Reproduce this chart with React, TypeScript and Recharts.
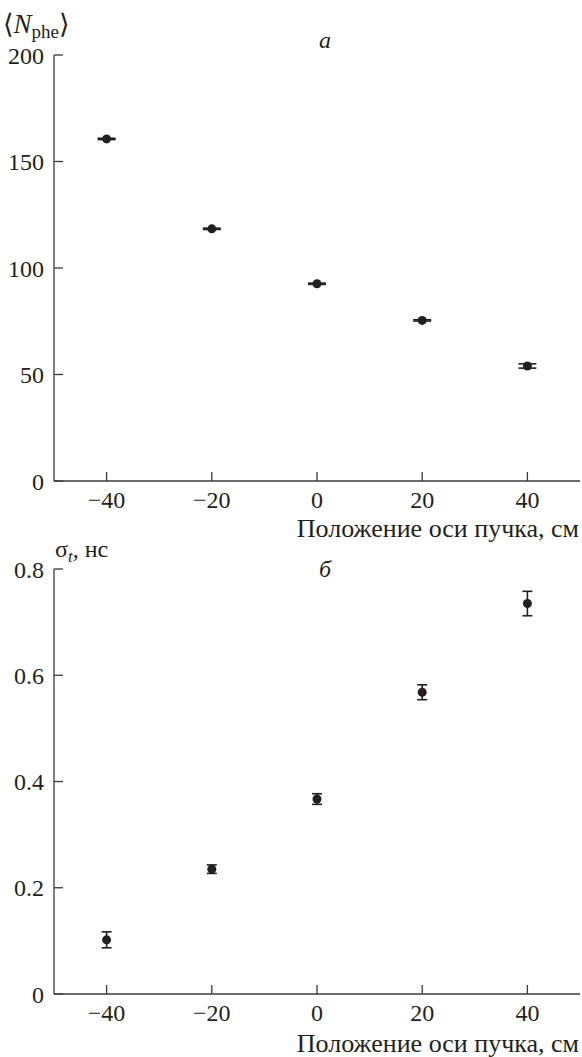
import { ErrorBar, Label, Scatter, ScatterChart, XAxis, YAxis } from 'recharts'

// положение оси пучка, см
const POSITIONS = [-40, -20, 0, 20, 40]
const X_TICKS = [-40, -20, 0, 20, 40]

// панель а: среднее число фотоэлектронов
const NPHE = [160.6, 118.4, 92.6, 75.4, 54.0]
const NPHE_ERR = [0.3, 0.3, 0.3, 0.3, 1.0]
const NPHE_TICKS = [0, 50, 100, 150, 200]

// панель б: временное разрешение, нс
const SIGMA = [0.102, 0.235, 0.367, 0.568, 0.735]
const SIGMA_ERR = [0.015, 0.008, 0.01, 0.014, 0.023]
const SIGMA_TICKS = [0, 0.2, 0.4, 0.6, 0.8]

const INK = '#231f20'
const AXIS = '#3a3a3a'
const FONT = '"Liberation Serif", "DejaVu Serif", serif'
const X_TITLE = 'Положение оси пучка, см'

const dataA = POSITIONS.map((x, i) => ({ x, y: NPHE[i], err: NPHE_ERR[i] }))
const dataB = POSITIONS.map((x, i) => ({ x, y: SIGMA[i], err: SIGMA_ERR[i] }))

const fmtX = (v: number) => (v < 0 ? `\u2212${Math.abs(v)}` : `${v}`)
const fmtSigma = (v: number) => (v === 0 ? '0' : v.toFixed(1))

const Dot = (p: any) => <circle cx={p.cx} cy={p.cy} r={4.5} fill={INK} />

// серифные подписи делений (Text из recharts теряет шрифт)
const XTick = ({ x, y, payload }: any) => (
  <text x={x} y={y} dy="0.71em" textAnchor="middle" fontSize={24} fill={INK} fontFamily={FONT}>
    {fmtX(payload.value)}
  </text>
)
const makeYTick = (fmt: (v: number) => string) => ({ x, y, payload }: any) => (
  <text x={x} y={y} dy="0.355em" textAnchor="end" fontSize={24} fill={INK} fontFamily={FONT}>
    {fmt(payload.value)}
  </text>
)
const YTickA = makeYTick((v) => `${v}`)
const YTickB = makeYTick(fmtSigma)

function XTitle({ viewBox, dy }: any) {
  const { x, y, width } = viewBox
  return (
    <text x={x + width - 1} y={y + dy} textAnchor="end" fontSize={26} fill={INK} fontFamily={FONT}>
      {X_TITLE}
    </text>
  )
}

export default function App() {
  return (
    <div style={{ position: 'absolute', left: 0, top: 0, width: 582, height: 1057, background: '#fff', fontFamily: FONT }}>
      {/* а */}
      <div style={{ position: 'absolute', left: 0, top: 0 }}>
        <ScatterChart width={582} height={545} margin={{ top: 55, right: 2, left: 0, bottom: 0 }}>
          <XAxis
            type="number"
            dataKey="x"
            domain={[-50, 50]}
            ticks={X_TICKS}
            height={64}
            tickSize={-9}
            tickMargin={19}
            stroke={AXIS}
            strokeWidth={1.3}
            tick={<XTick />}
          >
            <Label content={(props: any) => <XTitle {...props} dy={56} />} />
          </XAxis>
          <YAxis
            type="number"
            dataKey="y"
            domain={[0, 200]}
            ticks={NPHE_TICKS}
            width={54}
            tickSize={-9}
            tickMargin={19}
            stroke={AXIS}
            strokeWidth={1.3}
            tick={<YTickA />}
          >
            <Label
              content={() => (
                <g fontFamily={FONT} fill={INK}>
                  <text x={3} y={33} fontSize={27}>
                    {'\u27e8'}
                    <tspan fontStyle="italic">N</tspan>
                    <tspan fontSize={19} dy={5}>phe</tspan>
                    <tspan dy={-5}>{'\u27e9'}</tspan>
                  </text>
                  <text x={325} y={48} fontSize={24} fontStyle="italic" textAnchor="middle">
                    а
                  </text>
                </g>
              )}
            />
          </YAxis>
          <Scatter data={dataA} shape={Dot} isAnimationActive={false}>
            <ErrorBar dataKey="err" direction="y" width={9} stroke={INK} strokeWidth={1.6} />
          </Scatter>
        </ScatterChart>
      </div>
      {/* б */}
      <div style={{ position: 'absolute', left: 0, top: 530 }}>
        <ScatterChart width={582} height={527} margin={{ top: 39, right: 2, left: 0, bottom: 0 }}>
          <XAxis
            type="number"
            dataKey="x"
            domain={[-50, 50]}
            ticks={X_TICKS}
            height={63}
            tickSize={-9}
            tickMargin={19}
            stroke={AXIS}
            strokeWidth={1.3}
            tick={<XTick />}
          >
            <Label content={(props: any) => <XTitle {...props} dy={58} />} />
          </XAxis>
          <YAxis
            type="number"
            dataKey="y"
            domain={[0, 0.8]}
            ticks={SIGMA_TICKS}
            width={54}
            tickSize={-9}
            tickMargin={19}
            stroke={AXIS}
            strokeWidth={1.3}
            tick={<YTickB />}
          >
            <Label
              content={() => (
                <g fontFamily={FONT} fill={INK}>
                  <text x={55} y={27} fontSize={24}>
                    σ
                    <tspan fontSize={17} dy={5} fontStyle="italic">t</tspan>
                    <tspan dy={-5}>, нс</tspan>
                  </text>
                  <text x={325} y={47} fontSize={24} fontStyle="italic" textAnchor="middle">
                    б
                  </text>
                </g>
              )}
            />
          </YAxis>
          <Scatter data={dataB} shape={Dot} isAnimationActive={false}>
            <ErrorBar dataKey="err" direction="y" width={5} stroke={INK} strokeWidth={1.6} />
          </Scatter>
        </ScatterChart>
      </div>
    </div>
  )
}
